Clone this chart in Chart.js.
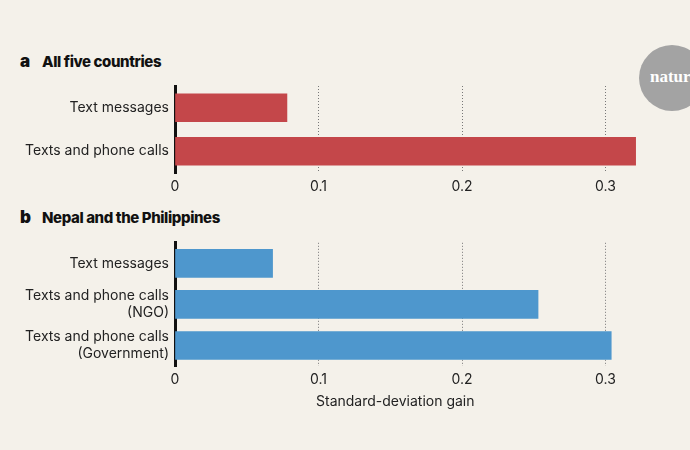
<!DOCTYPE html>
<html>
<head>
<meta charset="utf-8">
<script src="https://cdn.jsdelivr.net/npm/chart.js@4.4.0/dist/chart.umd.min.js"></script>
<style>
  html, body { margin: 0; padding: 0; background: #f4f1ea; }
  body { width: 690px; height: 450px; position: relative; overflow: hidden; font-family: "Inter", "Liberation Sans", sans-serif; }
  .panel-title { position: absolute; left: 20px; font-weight: 800; font-size: 15px; color: #111; letter-spacing: -0.4px; line-height: 18px; }
  .panel-title .lt { display: inline-block; width: 22px; font-size: 17px; font-weight: 900; letter-spacing: 0; }
  .box { position: absolute; left: 0; width: 690px; }
  .logo { position: absolute; left: 639px; top: 45px; width: 66px; height: 66px; border-radius: 50%; background: #a3a3a3; overflow: hidden; }
  .logo span { position: absolute; left: 11px; top: 23px; color: #fff; font-family: "Liberation Serif", "DejaVu Serif", serif; font-size: 17px; font-weight: bold; line-height: 17px; }
</style>
</head>
<body>
<div class="logo"><span>nature</span></div>
<div class="panel-title" style="top:52px"><span class="lt">a</span>All five countries</div>
<div class="panel-title" style="top:208px"><span class="lt">b</span>Nepal and the Philippines</div>
<div class="box" style="top:70px;height:140px"><canvas id="ca"></canvas></div>
<div class="box" style="top:220px;height:190px"><canvas id="cb"></canvas></div>
<script>
const categoriesA = ["Text messages", "Texts and phone calls"];
const valuesA = [0.078, 0.321];
const categoriesB = ["Text messages", ["Texts and phone calls", "(NGO)"], ["Texts and phone calls", "(Government)"]];
const valuesB = [0.068, 0.253, 0.304];
const xTicks = [0, 0.1, 0.2, 0.3];
const xTitle = "Standard-deviation gain";

const fontFamily = '"Inter", "Liberation Sans", sans-serif';
const PX_PER_UNIT = 1435;
const AXIS_LEFT = 175;

function makeChart(id, cats, vals, color, max, padTop, xAxisHeight, showTitle) {
  const right = 690 - (AXIS_LEFT + max * PX_PER_UNIT);
  return new Chart(document.getElementById(id), {
    type: 'bar',
    data: {
      labels: cats,
      datasets: [{ data: vals, backgroundColor: color, borderWidth: 0, barThickness: 28 }]
    },
    options: {
      indexAxis: 'y',
      responsive: true,
      maintainAspectRatio: false,
      animation: false,
      layout: { padding: { top: padTop, right: right, left: 0, bottom: 0 } },
      plugins: { legend: { display: false }, tooltip: { enabled: false } },
      scales: {
        x: {
          type: 'linear',
          min: 0,
          max: max,
          afterFit: s => { s.height = xAxisHeight; },
          afterBuildTicks: s => { s.ticks = xTicks.map(v => ({ value: v })); },
          ticks: {
            includeBounds: false,
            padding: 5,
            color: '#222',
            font: { family: fontFamily, size: 14 },
            callback: v => String(v)
          },
          grid: {
            drawTicks: false,
            lineWidth: 1,
            color: ctx => (ctx.tick && ctx.tick.value === 0) ? 'rgba(0,0,0,0)' : '#777'
          },
          border: { display: false, dash: [1, 2] },
          title: {
            display: showTitle,
            text: xTitle,
            color: '#222',
            font: { family: fontFamily, size: 14 },
            padding: { top: 4, bottom: 0 }
          }
        },
        y: {
          z: 1,
          afterFit: s => { s.width = AXIS_LEFT; },
          ticks: {
            padding: 6,
            color: '#222',
            font: { family: fontFamily, size: 14, lineHeight: 1.2 }
          },
          grid: { display: false, drawTicks: false },
          border: { display: true, color: '#111', width: 3 }
        }
      }
    }
  });
}

makeChart('ca', categoriesA, valuesA, '#c4474a', 0.33, 16, 37, false);
makeChart('cb', categoriesB, valuesB, '#4e97cd', 0.307, 22, 44, true);
</script>
</body>
</html>
